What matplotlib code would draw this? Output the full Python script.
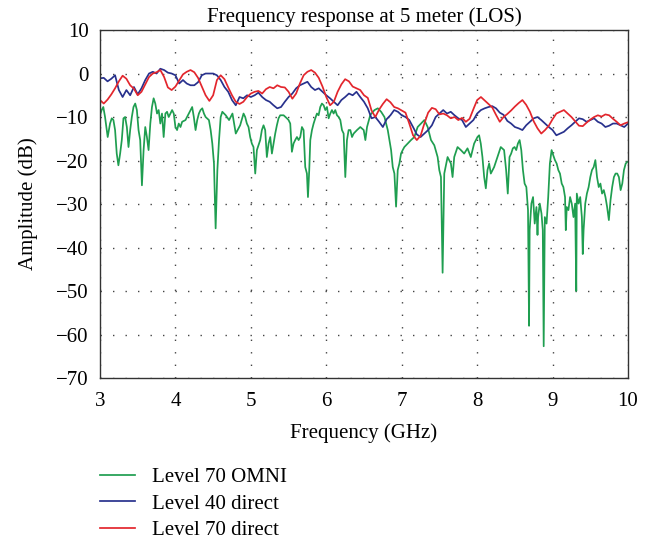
import numpy as np
import matplotlib
matplotlib.use('Agg')
import matplotlib.pyplot as plt

plt.rcParams['font.family'] = ['Liberation Serif', 'DejaVu Serif']

# direct-antenna sweeps: regular 50 MHz grid, 3-10 GHz
freq_direct = np.linspace(3.0, 10.0, 141)

level40_direct = [
    -1.1, -1.0, -1.8, -1.2, -0.4, -3.8, -5.4, -3.8, -5.0, -3.1,      # 3.00-3.45
    -4.8, -3.4, -1.5, 0.0, 0.4, 0.0, 1.1, 0.8, 0.2, 0.0,             # 3.50-3.95
    -0.4, -2.3, -1.5, -2.3, -2.7, -2.7, -2.0, -0.4, 0.0, 0.0,        # 4.00-4.45
    0.0, -0.4, -1.5, -3.1, -4.2, -6.1, -7.3, -5.4, -5.7, -5.0,       # 4.50-4.95
    -5.4, -5.0, -4.4, -5.4, -6.1, -6.5, -7.3, -8.0, -7.7, -6.5,      # 5.00-5.45
    -5.4, -4.6, -3.4, -2.7, -2.3, -1.9, -3.1, -3.8, -3.4, -4.2,      # 5.50-5.95
    -5.0, -5.7, -6.5, -7.3, -6.1, -5.4, -4.6, -5.0, -4.2, -5.4,      # 6.00-6.45
    -6.5, -8.0, -10.3, -10.0, -11.1, -12.3, -10.5, -9.6, -8.4, -8.8,  # 6.50-6.95
    -9.6, -10.0, -10.7, -12.3, -14.0, -14.6, -13.8, -13.0, -11.9, -10.0,  # 7.00-7.45
    -9.2, -8.4, -9.2, -8.8, -9.6, -10.3, -10.7, -12.3, -11.5, -10.7,  # 7.50-7.95
    -9.2, -8.4, -8.0, -7.7, -7.5, -8.0, -9.0, -9.5, -10.9, -11.5,     # 8.00-8.45
    -12.3, -12.6, -13.0, -11.9, -11.1, -10.3, -10.0, -10.7, -11.5, -12.3,  # 8.50-8.95
    -13.0, -14.2, -13.8, -13.4, -12.6, -11.9, -11.1, -10.3, -10.5, -11.1,  # 9.00-9.45
    -10.7, -10.3, -11.1, -11.5, -12.3, -12.0, -11.5, -11.5, -11.9, -12.3,  # 9.50-9.95
    -11.5,                                                            # 10.00
]

level70_direct = [
    -6.1, -6.9, -6.0, -4.8, -3.4, -1.8, -0.5, -1.2, -2.7, -3.5,      # 3.00-3.45
    -5.0, -4.2, -2.5, -0.8, 0.0, 0.3, 0.8, -0.8, -3.2, -3.8,         # 3.50-3.95
    -3.0, -1.6, -0.2, 0.4, 0.8, 0.3, -1.0, -3.0, -5.0, -6.3,         # 4.00-4.45
    -5.0, -1.5, -0.4, -1.3, -3.2, -5.0, -6.5, -7.0, -6.5, -5.4,      # 4.50-4.95
    -4.6, -4.2, -4.0, -4.6, -3.6, -3.1, -3.4, -2.7, -3.1, -3.2,      # 5.00-5.45
    -4.2, -5.8, -4.6, -2.3, -0.4, 0.4, 0.8, 0.2, -1.0, -3.0,         # 5.50-5.95
    -5.4, -7.3, -6.5, -4.2, -2.5, -1.3, -1.8, -3.0, -3.4, -3.8,      # 6.00-6.45
    -5.0, -5.6, -8.5, -10.0, -8.3, -7.0, -5.9, -6.6, -7.7, -8.0,     # 6.50-6.95
    -8.5, -9.0, -11.5, -14.2, -15.3, -14.3, -11.5, -9.0, -7.9, -8.2,  # 7.00-7.45
    -9.4, -9.2, -9.6, -10.3, -10.0, -10.7, -10.2, -11.1, -10.4, -8.2,  # 7.50-7.95
    -6.1, -5.4, -6.2, -7.0, -7.8, -9.5, -11.1, -10.0, -9.3, -8.5,    # 8.00-8.45
    -7.6, -6.8, -6.1, -7.2, -8.8, -11.0, -12.6, -13.8, -13.0, -12.0,  # 8.50-8.95
    -10.5, -9.2, -8.8, -8.4, -9.2, -10.0, -11.0, -12.0, -12.1, -11.3,  # 9.00-9.45
    -10.6, -10.0, -9.6, -9.9, -9.4, -9.6, -10.4, -11.1, -11.9, -11.5,  # 9.50-9.95
    -11.2,                                                            # 10.00
]

# omni sweep, sampled unevenly so the deep notches keep their depth
omni_freq = [
    3.000, 3.022, 3.044, 3.067, 3.102, 3.133, 3.156, 3.178, 3.200, 3.222,
    3.244, 3.267, 3.289, 3.311, 3.333, 3.356, 3.378, 3.400, 3.422, 3.444,
    3.467, 3.489, 3.511, 3.533, 3.556, 3.578, 3.600, 3.622, 3.644, 3.667,
    3.689, 3.711, 3.733, 3.756, 3.778, 3.800, 3.822, 3.844, 3.867, 3.889,
    3.911, 3.956, 3.978, 4.000, 4.022, 4.044, 4.067, 4.089, 4.133, 4.178,
    4.222, 4.244, 4.267, 4.289, 4.311, 4.333, 4.356, 4.378, 4.400, 4.444,
    4.467, 4.489, 4.511, 4.533, 4.556, 4.578, 4.600, 4.622, 4.667, 4.711,
    4.756, 4.800, 4.858, 4.903, 4.925, 4.947, 4.969, 4.991, 5.013, 5.035,
    5.058, 5.080, 5.124, 5.146, 5.168, 5.190, 5.212, 5.235, 5.257, 5.279,
    5.301, 5.323, 5.345, 5.367, 5.389, 5.434, 5.478, 5.500, 5.522, 5.544,
    5.566, 5.588, 5.611, 5.633, 5.655, 5.677, 5.699, 5.721, 5.743, 5.757,
    5.774, 5.788, 5.810, 5.832, 5.854, 5.876, 5.898, 5.920, 5.942, 5.965,
    5.987, 6.009, 6.031, 6.053, 6.075, 6.097, 6.119, 6.142, 6.164, 6.186,
    6.208, 6.230, 6.252, 6.274, 6.296, 6.319, 6.341, 6.363, 6.407, 6.451,
    6.496, 6.518, 6.540, 6.584, 6.639, 6.683, 6.727, 6.771, 6.815, 6.859,
    6.881, 6.903, 6.925, 6.947, 6.969, 6.991, 7.013, 7.035, 7.079, 7.123,
    7.167, 7.211, 7.256, 7.300, 7.344, 7.366, 7.388, 7.432, 7.476, 7.498,
    7.520, 7.542, 7.564, 7.608, 7.652, 7.674, 7.696, 7.740, 7.784, 7.828,
    7.872, 7.916, 7.960, 8.004, 8.026, 8.048, 8.070, 8.093, 8.115, 8.137,
    8.159, 8.181, 8.225, 8.269, 8.313, 8.357, 8.384, 8.406, 8.429, 8.451,
    8.473, 8.496, 8.518, 8.540, 8.563, 8.585, 8.607, 8.629, 8.652, 8.674,
    8.688, 8.696, 8.719, 8.741, 8.763, 8.786, 8.800, 8.808, 8.830, 8.853,
    8.870, 8.882, 8.897, 8.920, 8.942, 8.964, 8.987, 9.009, 9.031, 9.054,
    9.076, 9.098, 9.121, 9.143, 9.165, 9.175, 9.188, 9.210, 9.232, 9.254,
    9.277, 9.299, 9.314, 9.321, 9.344, 9.366, 9.388, 9.400, 9.411, 9.433,
    9.455, 9.478, 9.500, 9.522, 9.545, 9.567, 9.589, 9.612, 9.634, 9.656,
    9.679, 9.701, 9.723, 9.746, 9.768, 9.790, 9.813, 9.835, 9.857, 9.879,
    9.902, 9.924, 9.946, 9.969, 9.991,
]

omni_amp = [
    -9.6, -8.4, -7.7, -10.0, -14.6, -11.5, -10.3, -10.7, -13.0, -18.4,
    -21.1, -18.4, -15.3, -10.3, -10.0, -12.3, -16.9, -13.0, -10.0, -7.7,
    -6.9, -8.4, -13.0, -15.3, -25.7, -17.6, -12.3, -14.6, -17.6, -11.5,
    -7.7, -5.7, -6.9, -9.2, -8.4, -11.5, -9.2, -14.6, -9.2, -8.8,
    -10.0, -8.4, -9.2, -12.3, -13.0, -11.5, -12.3, -11.1, -10.7, -9.2,
    -7.7, -10.0, -13.0, -10.7, -9.2, -8.4, -8.0, -9.2, -10.0, -10.7,
    -13.0, -16.1, -20.7, -35.6, -22.2, -15.3, -10.0, -8.8, -9.6, -10.7,
    -9.2, -13.8, -11.9, -9.2, -10.0, -11.5, -12.3, -14.6, -16.1, -16.9,
    -23.0, -17.6, -15.3, -13.0, -11.9, -13.0, -19.2, -16.1, -14.6, -18.4,
    -16.1, -13.8, -11.9, -10.3, -9.6, -9.6, -10.3, -10.7, -11.5, -18.0,
    -16.1, -15.3, -14.6, -15.3, -14.6, -12.3, -13.0, -21.5, -23.0, -28.4,
    -22.2, -15.3, -13.0, -11.5, -10.3, -9.2, -9.6, -7.7, -6.9, -7.3,
    -8.4, -7.7, -10.3, -9.2, -8.4, -9.2, -8.4, -9.6, -10.0, -10.7,
    -13.0, -13.8, -23.8, -15.3, -13.0, -13.0, -14.6, -13.8, -13.0, -12.3,
    -13.0, -15.3, -12.3, -9.5, -8.4, -8.0, -8.8, -10.0, -13.0, -17.6,
    -21.5, -23.0, -30.6, -22.2, -20.7, -18.4, -17.6, -16.9, -16.1, -15.3,
    -14.6, -12.3, -11.5, -10.7, -12.3, -13.8, -15.3, -16.5, -19.2, -22.2,
    -23.8, -45.8, -23.0, -19.2, -20.7, -23.8, -19.2, -16.9, -17.6, -18.4,
    -17.2, -19.2, -16.1, -14.6, -14.2, -16.1, -19.2, -23.8, -26.4, -22.2,
    -20.7, -23.0, -21.5, -19.2, -16.9, -17.6, -22.2, -27.6, -19.2, -18.4,
    -17.2, -16.9, -17.6, -16.1, -15.3, -17.6, -22.2, -25.3, -26.1, -31.4,
    -58.0, -36.0, -29.9, -28.4, -34.5, -30.7, -37.1, -33.0, -29.9, -32.2,
    -36.0, -62.7, -33.0, -34.5, -28.4, -20.7, -17.6, -18.8, -19.9, -20.7,
    -22.2, -23.0, -25.3, -26.1, -28.4, -36.0, -30.7, -31.4, -28.4, -29.9,
    -33.0, -29.9, -50.0, -27.6, -29.9, -28.4, -33.0, -41.5, -36.0, -29.9,
    -27.6, -26.1, -23.8, -22.2, -21.5, -19.9, -23.8, -26.1, -25.3, -27.6,
    -26.8, -28.4, -30.7, -33.7, -29.1, -26.1, -23.8, -23.0, -23.0, -23.8,
    -26.8, -25.3, -22.2, -20.7, -20.3,
]

GREEN = '#1f9e50'
BLUE = '#28318d'
RED = '#e3262d'
FS = 15

fig = plt.figure(figsize=(6.51, 5.39), dpi=100)
ax = fig.add_axes([0.1536, 0.2987, 0.8111, 0.6456])

ax.plot(omni_freq, omni_amp, color=GREEN, lw=1.25, label='Level 70 OMNI')
ax.plot(freq_direct, level40_direct, color=BLUE, lw=1.25, label='Level 40 direct')
ax.plot(freq_direct, level70_direct, color=RED, lw=1.25, label='Level 70 direct')

ax.set_xlim(3, 10)
ax.set_ylim(-70, 10)
ax.set_xticks(range(3, 11))
ax.set_yticks(range(-70, 11, 10))
ax.grid(True, color='#444444', linestyle=(0, (1, 8)), linewidth=1.0)
ax.tick_params(length=0, labelsize=FS)
ax.tick_params(axis='x', pad=10)
ax.tick_params(axis='y', pad=8)
for s in ax.spines.values():
    s.set_color('#333333')
    s.set_linewidth(1.0)

ax.set_title('Frequency response at 5 meter (LOS)', fontsize=FS, pad=6)
ax.set_xlabel('Frequency (GHz)', fontsize=FS, labelpad=9)
ax.set_ylabel('Amplitude (dB)', fontsize=FS, labelpad=13)

h, l = ax.get_legend_handles_labels()
fig.legend(h, l, loc='upper left', bbox_to_anchor=(0.1536, 0.132),
           frameon=False, fontsize=FS, handlelength=1.7,
           handletextpad=0.8, labelspacing=0.32, borderpad=0,
           borderaxespad=0)

fig.savefig('out.png', dpi=100)
